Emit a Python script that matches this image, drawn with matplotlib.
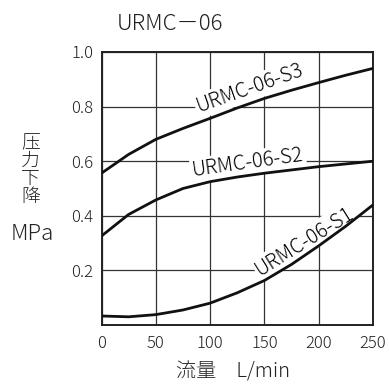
import matplotlib
matplotlib.use("Agg")
import matplotlib.pyplot as plt
import numpy as np

plt.rcParams['font.family'] = ['Noto Sans CJK JP', 'DejaVu Sans']
plt.rcParams['font.weight'] = 'light'

flow = [0, 25, 50, 75, 100, 125, 150, 175, 200, 225, 250]
s3 = [0.556, 0.625, 0.68, 0.72, 0.757, 0.795, 0.83, 0.86, 0.888, 0.915, 0.94]
s2 = [0.326, 0.405, 0.458, 0.500, 0.525, 0.542, 0.556, 0.568, 0.580, 0.590, 0.60]
s1 = [0.033, 0.030, 0.038, 0.055, 0.08, 0.118, 0.163, 0.222, 0.29, 0.362, 0.44]
labels = ['URMC-06-S3', 'URMC-06-S2', 'URMC-06-S1']
xticks = [0, 50, 100, 150, 200, 250]
yticks = [0.2, 0.4, 0.6, 0.8, 1.0]
ytick_labels = ['0.2', '0.4', '0.6', '0.8', '1.0']

fig = plt.figure(figsize=(3.89, 3.85), dpi=100)
ax = fig.add_axes([101.5/389, 60/385, 271.5/389, 273/385])
ax.set_xlim(0, 250)
ax.set_ylim(0, 1.0)
ax.set_xticks(xticks)
ax.set_yticks(yticks)
ax.set_yticklabels(ytick_labels)
ax.tick_params(length=0, labelsize=12, colors='#222222')
ax.tick_params(axis='y', pad=6)
ax.tick_params(axis='x', pad=7)
ax.grid(True, color='#333333', linewidth=0.9)
ax.set_axisbelow(True)
for sp in ax.spines.values():
    sp.set_linewidth(1.4)
    sp.set_color('#222222')

for ys in (s3, s2, s1):
    ax.plot(flow, ys, color='#111111', linewidth=2.0, solid_capstyle='butt', zorder=5)

bbox = dict(boxstyle='square,pad=0.1', facecolor='white', edgecolor='none')
ax.text(137, 0.867, labels[0], rotation=19.5, ha='center', va='center', fontsize=14.5,
        bbox=bbox, zorder=4)
ax.text(135, 0.593, labels[1], rotation=8, ha='center', va='center', fontsize=14.5,
        bbox=bbox, zorder=4)
ax.text(187.5, 0.307, labels[2], rotation=32, ha='center', va='center', fontsize=14.5,
        bbox=bbox, zorder=4)

fig.text(170/389, 1 - 23.5/385, 'URMC－06', ha='center', va='center', fontsize=16, color='#222222')
for i, ch in enumerate('压力下降'):
    fig.text(30.5/389, 1 - (143 + 18 * i)/385, ch, ha='center', va='center', fontsize=13.5,
             color='#222222')
fig.text(32/389, 1 - 234/385, 'MPa', ha='center', va='center', fontsize=16, color='#222222')
fig.text(233/389, 1 - 372/385, '流量　L/min', ha='center', va='center', fontsize=14.5, color='#222222')

fig.savefig('out.png', dpi=100)
